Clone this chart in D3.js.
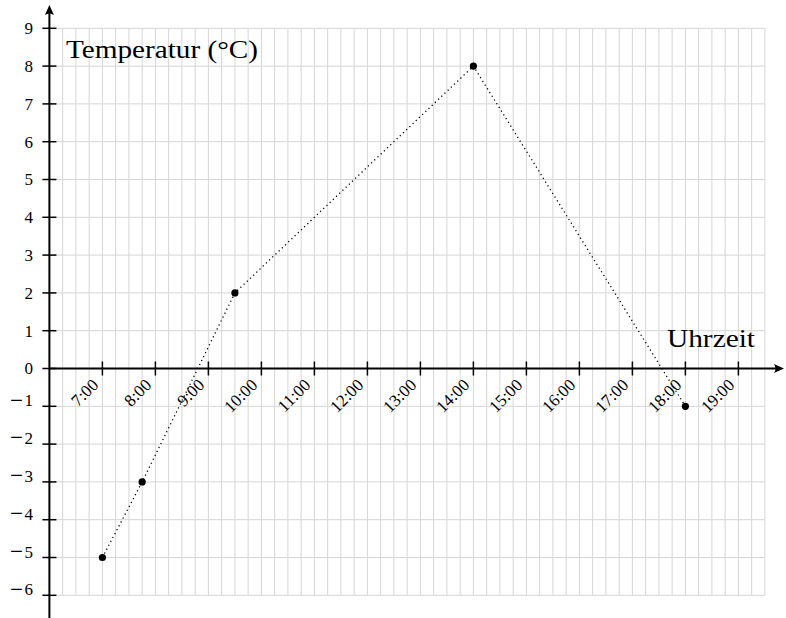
<!DOCTYPE html>
<html><head><meta charset="utf-8">
<script src="https://cdn.jsdelivr.net/npm/d3@7"></script>
<style>body{margin:0;background:#fff}svg{display:block}text{font-family:"Liberation Serif","DejaVu Serif",serif;fill:#000}</style>
</head><body><svg id="c" width="786" height="618"></svg>
<script>
const hours = [7, 7.75, 9.5, 14, 18];
const temps = [-5, -3, 2, 8, -1];
const xTicks = [7,8,9,10,11,12,13,14,15,16,17,18,19];
const xTickLabels = ["7:00","8:00","9:00","10:00","11:00","12:00","13:00","14:00","15:00","16:00","17:00","18:00","19:00"];
const yTicks = [-6,-5,-4,-3,-2,-1,0,1,2,3,4,5,6,7,8,9];
const yLabel = "Temperatur (°C)";
const xLabel = "Uhrzeit";

const svg = d3.select("#c");
const x = d3.scaleLinear().domain([6, 19.5]).range([49.4, 764.9]);
const y = d3.scaleLinear().domain([-6, 9]).range([595.3, 28.3]);

// grid
const g = svg.append("g").attr("stroke", "#d6d6d6").attr("stroke-width", 1);
d3.range(6.25, 19.51, 0.25).forEach(v => {
  g.append("line").attr("x1", x(v)).attr("x2", x(v)).attr("y1", y(-6)).attr("y2", y(9));
});
yTicks.forEach(v => {
  g.append("line").attr("x1", x(6)).attr("x2", x(19.5)).attr("y1", y(v)).attr("y2", y(v));
});

// axes
const ax = svg.append("g").attr("stroke", "#000").attr("stroke-width", 2);
ax.append("line").attr("x1", x(6)).attr("x2", 780).attr("y1", y(0)).attr("y2", y(0));
ax.append("line").attr("x1", x(6)).attr("x2", x(6)).attr("y1", 618).attr("y2", 9);
svg.append("path").attr("d", `M784,${y(0)} L774,${y(0)-4.5} Q777,${y(0)} 774,${y(0)+4.5} Z`).attr("fill", "#000");
svg.append("path").attr("d", `M${x(6)},5 L${x(6)-4.5},15 Q${x(6)},12 ${x(6)+4.5},15 Z`).attr("fill", "#000");

// y ticks
yTicks.forEach(v => {
  svg.append("line").attr("x1", x(6)-7).attr("x2", x(6)+7).attr("y1", y(v)).attr("y2", y(v))
    .attr("stroke", "#000").attr("stroke-width", 1.5);
  const t = svg.append("text").attr("x", 33).attr("y", y(v)).attr("dy", "0.35em")
    .attr("text-anchor", "end").attr("font-size", 17);
  if (v < 0) {
    t.append("tspan").attr("font-size", 23).attr("dy", 1.3).text("\u2212");
    t.append("tspan").attr("dx", 1.5).attr("dy", -1.3).text(String(Math.abs(v)));
  } else {
    t.text(String(v));
  }
});

// x ticks
xTicks.forEach((v, i) => {
  svg.append("line").attr("x1", x(v)).attr("x2", x(v)).attr("y1", y(0)-7).attr("y2", y(0)+7)
    .attr("stroke", "#000").attr("stroke-width", 1.5);
  svg.append("text").attr("transform", `translate(${x(v)-3},${y(0)+17.5}) rotate(-45)`)
    .attr("text-anchor", "end").attr("font-size", 17)
    .text(xTickLabels[i]);
});

// line
const pts = hours.map((h, i) => [h, temps[i]]);
svg.append("path").datum(pts)
  .attr("d", d3.line().x(d => x(d[0])).y(d => y(d[1])))
  .attr("fill", "none").attr("stroke", "#000").attr("stroke-width", 1.3)
  .attr("stroke-dasharray", "1.2,3.2");
svg.selectAll("circle.p").data(pts).enter().append("circle")
  .attr("cx", d => x(d[0])).attr("cy", d => y(d[1])).attr("r", 3.6).attr("fill", "#000");

// labels
svg.append("text").attr("x", 66).attr("y", 58).attr("font-size", 26)
  .attr("textLength", 192).attr("lengthAdjust", "spacingAndGlyphs").text(yLabel);
svg.append("text").attr("x", 667).attr("y", 347).attr("font-size", 26)
  .attr("textLength", 88).attr("lengthAdjust", "spacingAndGlyphs").text(xLabel);
</script></body></html>
